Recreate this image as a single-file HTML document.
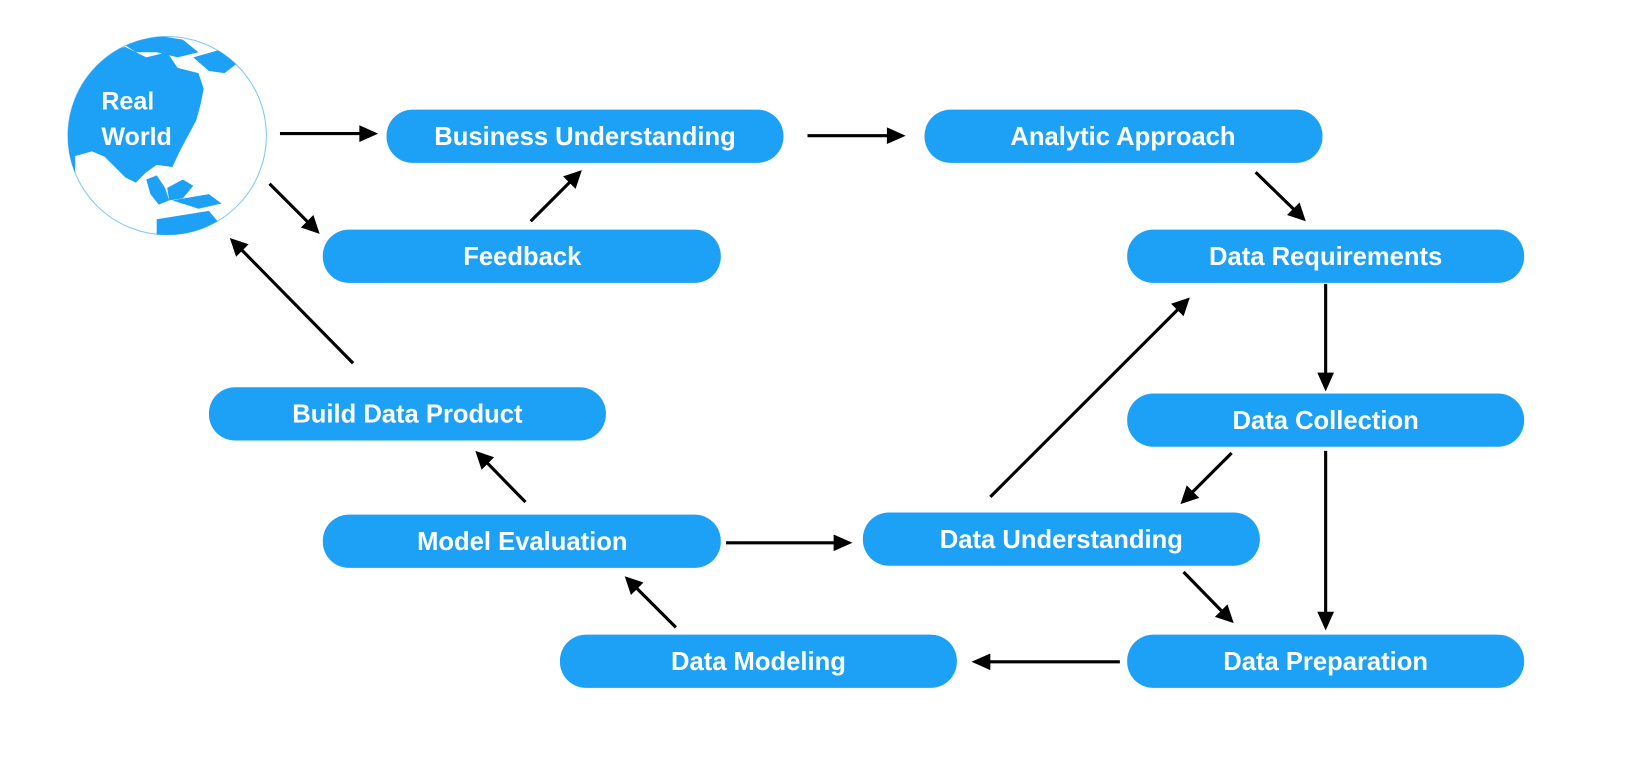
<!DOCTYPE html>
<html><head><meta charset="utf-8"><style>
html,body{margin:0;padding:0;background:#fff;}
svg{display:block;}
text{font-family:"Liberation Sans",Arial,sans-serif;font-weight:bold;fill:#fff;}
</style></head><body>
<svg width="1638" height="762" viewBox="0 0 1568 730" preserveAspectRatio="none" xmlns="http://www.w3.org/2000/svg">
<defs>
<clipPath id="g"><circle cx="160" cy="130" r="95"/></clipPath>
</defs>
<circle cx="160" cy="130" r="95" fill="#fff" stroke="#7cc8fb" stroke-width="1"/>
<g clip-path="url(#g)" fill="#1da1f7">
<path d="M60 80 L75 60 L95 50 L120 45 L140 55 L160 50 L170 65 L190 70 L195 85 L192 100 L188 115 L180 130 L172 145 L165 160 L150 158 L140 165 L130 175 L120 170 L110 160 L100 150 L88 145 L70 150 L60 140 Z"/>
<path d="M115 40 L150 34 L175 38 L190 50 L170 55 L150 50 L130 50 Z"/>
<path d="M185 55 L220 45 L228 60 L215 70 L200 68 Z"/>
<path d="M140 172 L150 168 L158 180 L162 192 L152 196 L144 186 Z"/>
<path d="M160 180 L175 172 L185 178 L175 190 L162 192 Z"/>
<path d="M165 192 L200 186 L212 195 L190 200 Z"/>
<path d="M150 210 L200 202 L210 214 L190 228 L150 228 Z"/>
<path d="M60 140 L72 150 L72 175 L60 170 Z"/>
</g>
<text x="97" y="105" font-size="24">Real</text>
<text x="97" y="139" font-size="24">World</text>
<g fill="#1da1f7">
<rect x="370" y="105" width="380" height="51" rx="25"/>
<rect x="885" y="105" width="381" height="51" rx="25"/>
<rect x="309" y="220" width="381" height="51" rx="25"/>
<rect x="1079" y="220" width="380" height="51" rx="25"/>
<rect x="200" y="371" width="380" height="51" rx="25"/>
<rect x="1079" y="377" width="380" height="51" rx="25"/>
<rect x="309" y="493" width="381" height="51" rx="25"/>
<rect x="826" y="491" width="380" height="51" rx="25"/>
<rect x="536" y="608" width="380" height="51" rx="25"/>
<rect x="1079" y="608" width="380" height="51" rx="25"/>
</g>
<g font-size="24.5" text-anchor="middle">
<text x="560" y="139">Business Understanding</text>
<text x="1075" y="139">Analytic Approach</text>
<text x="500" y="254">Feedback</text>
<text x="1269" y="254">Data Requirements</text>
<text x="390" y="405">Build Data Product</text>
<text x="1269" y="411">Data Collection</text>
<text x="500" y="527">Model Evaluation</text>
<text x="1016" y="525">Data Understanding</text>
<text x="726" y="642">Data Modeling</text>
<text x="1269" y="642">Data Preparation</text>
</g>
<g stroke="#000" stroke-width="3" fill="none">
<line x1="268" y1="128" x2="348" y2="128"/>
<line x1="773" y1="130" x2="853" y2="130"/>
<line x1="258" y1="176" x2="297" y2="215"/>
<line x1="508" y1="212" x2="548" y2="172"/>
<line x1="338" y1="348" x2="229" y2="237"/>
<line x1="1202" y1="165" x2="1241" y2="203"/>
<line x1="1269" y1="272" x2="1269" y2="361"/>
<line x1="948" y1="476" x2="1130" y2="294"/>
<line x1="1179" y1="434" x2="1139" y2="474"/>
<line x1="1269" y1="432" x2="1269" y2="590"/>
<line x1="1133" y1="548" x2="1172" y2="588"/>
<line x1="1072" y1="634" x2="944" y2="634"/>
<line x1="695" y1="520" x2="802" y2="520"/>
<line x1="647" y1="601" x2="607" y2="561"/>
<line x1="503" y1="481" x2="464" y2="441"/>
</g>
<g fill="#000">
<polygon points="362,128 344,120 344,136"/>
<polygon points="867,130 849,122 849,138"/>
<polygon points="306,224 288,218 300,206"/>
<polygon points="557,163 551,181 539,169"/>
<polygon points="220,228 238,234 226,246"/>
<polygon points="1250,212 1232,206 1244,194"/>
<polygon points="1269,375 1261,357 1277,357"/>
<polygon points="1139,285 1133,303 1121,291"/>
<polygon points="1130,483 1136,465 1148,477"/>
<polygon points="1269,604 1261,586 1277,586"/>
<polygon points="1181,597 1163,591 1175,579"/>
<polygon points="930,634 948,626 948,642"/>
<polygon points="816,520 798,512 798,528"/>
<polygon points="598,552 616,558 604,570"/>
<polygon points="455,432 473,438 461,450"/>
</g>
</svg>
</body></html>
